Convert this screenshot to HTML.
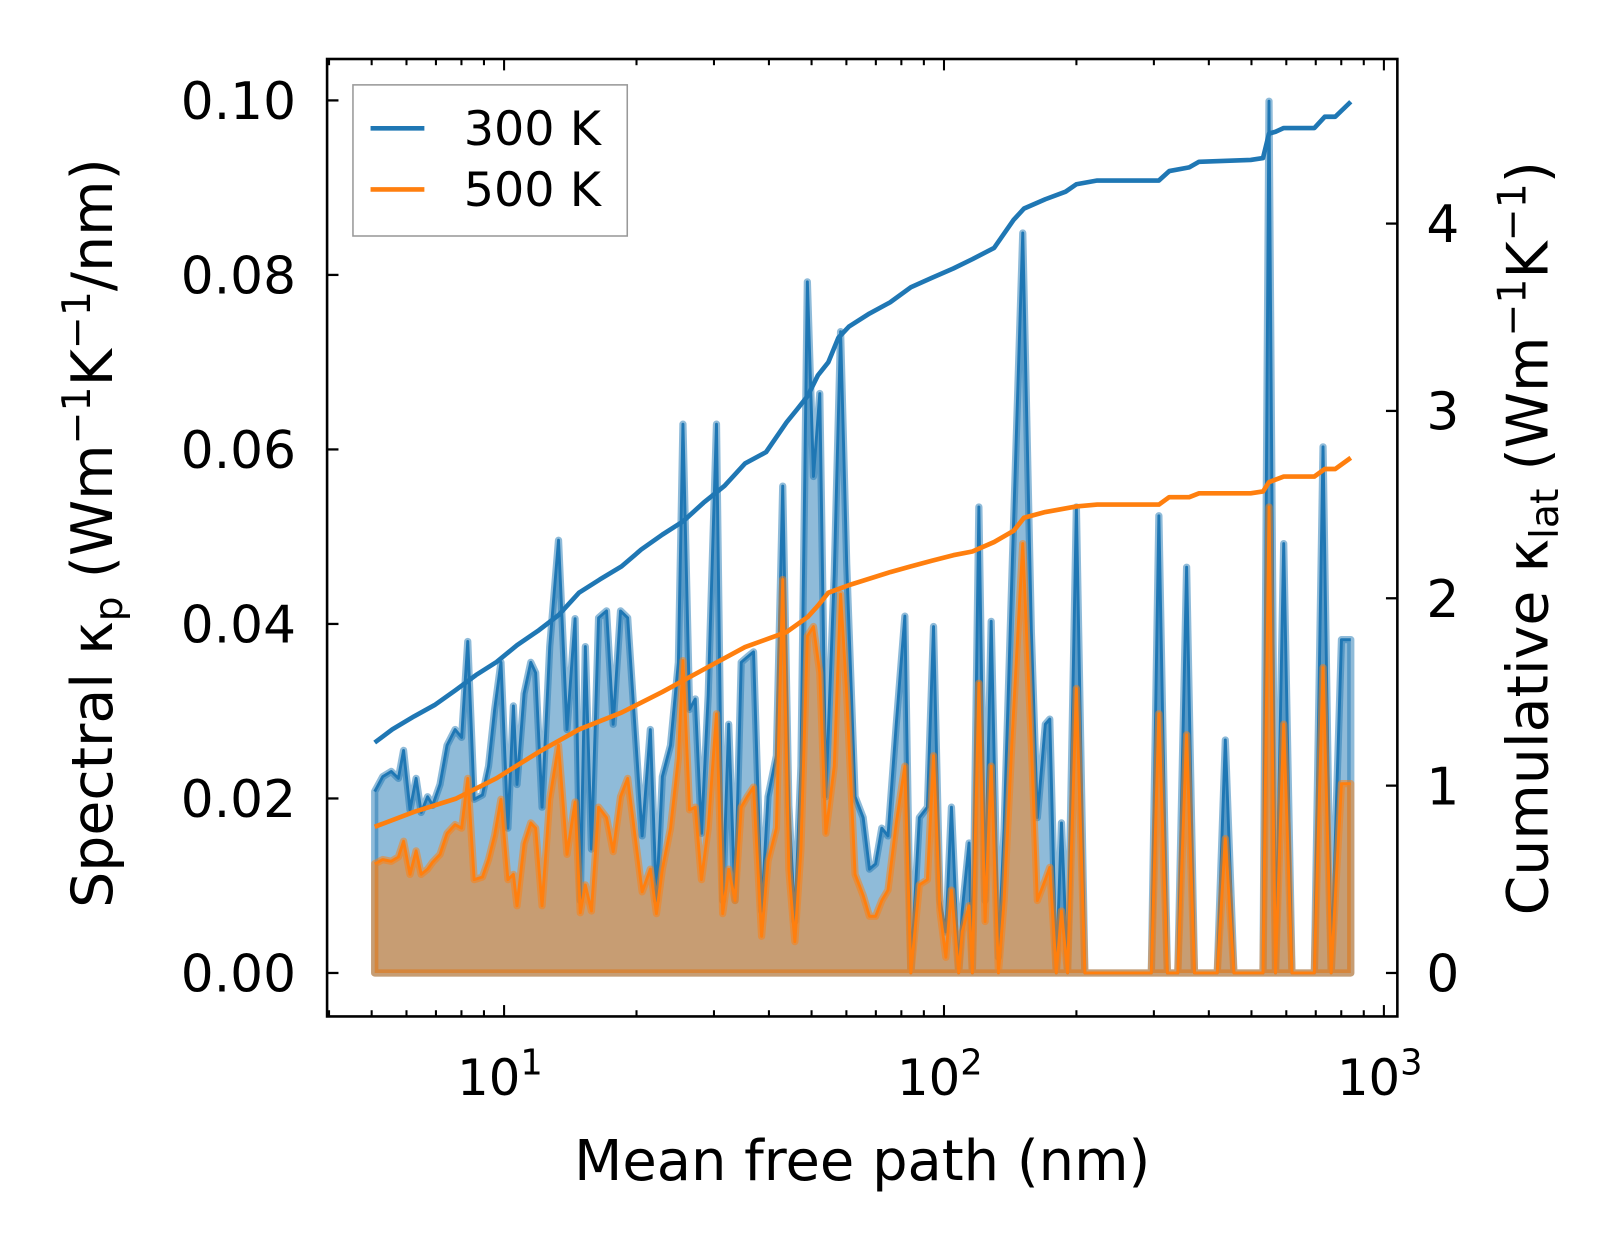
<!DOCTYPE html>
<html><head><meta charset="utf-8"><style>
html,body{margin:0;padding:0;background:#fff}
svg{display:block;font-family:"DejaVu Sans","Liberation Sans",sans-serif}
</style></head><body>
<svg id="chart" width="1623" height="1254" viewBox="0 0 1568 1211.5" xmlns="http://www.w3.org/2000/svg">
<rect x="0" y="0" width="1568" height="1211.5" fill="#fff"/>
<g id="marks"></g>
<g id="axes"></g>
</svg>
<script>
const mfp=[5.08,5.30,5.54,5.75,5.91,6.11,6.31,6.48,6.70,6.88,7.15,7.42,7.74,8.01,8.27,8.55,8.93,9.22,9.52,9.84,10.2,10.5,10.7,11.1,11.5,11.8,12.2,12.7,13.3,13.9,14.5,14.9,15.3,15.8,16.4,17.1,17.7,18.4,19.1,20.6,21.5,22.2,22.9,23.9,24.9,25.5,26.4,27.2,28.1,29.1,30.4,31.4,32.4,33.5,34.6,35.7,36.9,38.5,39.8,41.6,43.0,44.4,45.8,47.3,48.9,50.5,52.2,53.9,56.3,58.2,60.1,62.8,65.5,67.7,69.9,72.2,74.6,77.9,81.5,84.1,87.9,91.7,94.7,97.9,101,104,108,110,114,116,120,124,128,133,137,143,151,158,163,170,174,180,185,191,200,209,218,296,308,322,340,356,371,418,436,456,531,548,567,592,618,695,727,759,801,841];
const k300=[.0208,.0225,.0231,.0223,.0255,.0187,.0223,.0184,.0202,.0192,.0216,.0261,.0279,.0270,.0380,.0199,.0204,.0237,.0302,.0356,.0166,.0306,.0216,.0320,.0356,.0344,.0190,.0374,.0496,.0279,.0406,.0083,.0374,.0142,.0407,.0415,.0285,.0415,.0407,.0157,.0279,.0083,.0225,.0261,.0356,.0629,.0302,.0314,.0160,.0318,.0629,.0083,.0285,.0083,.0356,.0362,.0368,.0071,.0202,.0249,.0558,.0192,.0059,.0237,.0792,.0569,.0664,.0202,.0457,.0735,.0469,.0202,.0178,.0119,.0125,.0166,.0157,.0285,.0409,0,.0178,.0190,.0397,.0083,.0047,.0190,0,.0071,.0149,0,.0534,.0083,.0403,.0018,.0166,.0469,.0848,.0391,.0178,.0285,.0291,0,.0172,0,.0534,0,0,0,.0524,0,0,.0465,0,0,.0267,0,0,.0999,0,.0492,0,0,.0603,0,.0382,.0382];
const k500=[.0125,.0130,.0128,.0133,.0151,.0113,.0140,.0113,.0119,.0127,.0136,.0160,.0170,.0166,.0223,.0107,.0110,.0130,.0158,.0199,.0107,.0113,.0077,.0148,.0172,.0166,.0077,.0199,.0261,.0136,.0196,.0069,.0101,.0071,.0190,.0178,.0139,.0202,.0223,.0093,.0119,.0068,.0119,.0166,.0246,.0358,.0187,.0190,.0107,.0166,.0297,.0068,.0119,.0083,.0190,.0202,.0213,.0042,.0128,.0166,.0451,.0119,.0036,.0142,.0386,.0397,.0344,.0160,.0237,.0434,.0320,.0113,.0089,.0065,.0065,.0083,.0095,.0172,.0237,0,.0101,.0107,.0249,.0071,.0018,.0095,0,.0047,.0077,0,.0332,.0059,.0237,0,.0083,.0273,.0492,.0261,.0083,.0107,.0121,0,.0071,0,.0326,0,0,0,.0297,0,0,.0273,0,0,.0154,0,0,.0534,0,.0285,0,0,.0350,0,.0217,.0217];
const cumX300=[5.08,5.57,6.25,6.95,7.76,8.63,9.62,10.7,12.0,13.3,14.8,16.5,18.5,20.5,22.9,25.5,28.4,31.7,35.3,39.4,43.9,46.4,49.0,51.7,54.6,57.5,60.8,67.7,75.5,84.1,93.8,105,116,130,144,152,170,189,200,223,308,325,361,380,498,531,548,567,592,695,734,775,841];
const cum300=[1.23,1.30,1.37,1.43,1.51,1.59,1.66,1.75,1.83,1.91,2.03,2.10,2.17,2.26,2.34,2.41,2.51,2.60,2.72,2.78,2.94,3.01,3.08,3.19,3.26,3.39,3.45,3.52,3.58,3.66,3.71,3.76,3.81,3.87,4.02,4.08,4.13,4.17,4.21,4.23,4.23,4.28,4.30,4.33,4.34,4.35,4.48,4.49,4.51,4.51,4.57,4.57,4.65];
const cumX500=[5.08,6.25,7.76,9.62,12.0,14.8,18.5,22.9,28.4,35.3,43.9,49.0,51.7,54.6,60.8,75.5,84.1,93.8,105,116,130,144,152,170,200,223,308,325,361,380,498,531,548,592,695,734,775,841];
const cum500=[0.78,0.86,0.93,1.04,1.18,1.30,1.39,1.50,1.62,1.74,1.82,1.90,1.96,2.03,2.07,2.14,2.17,2.20,2.23,2.25,2.30,2.36,2.43,2.46,2.49,2.50,2.50,2.54,2.54,2.56,2.56,2.57,2.62,2.65,2.65,2.69,2.69,2.75];
const leftTicks=[0,0.02,0.04,0.06,0.08,0.10];
const leftTickLabels=["0.00","0.02","0.04","0.06","0.08","0.10"];
const rightTicks=[0,1,2,3,4];
const xDecades=[1,2,3];

const L=316,R=1350,T=57,B=982;
const NS="http://www.w3.org/2000/svg";
const X=v=>487+425*(Math.log10(v)-1);
const YL=v=>940-v*8430;
const YR=v=>940-v*181;
function mk(tag,attrs,parent,text){const e=document.createElementNS(NS,tag);for(const k in attrs)e.setAttribute(k,attrs[k]);if(text!==undefined)e.textContent=text;parent.appendChild(e);return e;}
const marks=document.getElementById('marks'),axes=document.getElementById('axes');
mk('clipPath',{id:'clip'},marks);
mk('rect',{x:L,y:T,width:R-L,height:B-T},document.getElementById('clip'));
const mg=mk('g',{'clip-path':'url(#clip)'},marks);

function area(vals,color,name){
  let line=mfp.map((m,i)=>(i?'L':'M')+X(m).toFixed(1)+' '+YL(vals[i]).toFixed(1)).join(' ');
  let fill=line+' L'+X(mfp[mfp.length-1]).toFixed(1)+' '+YL(0)+' L'+X(mfp[0]).toFixed(1)+' '+YL(0)+' Z';
  const f=mk('path',{d:fill,fill:color,'fill-opacity':0.5,stroke:color,'stroke-opacity':0.5,'stroke-width':7,'stroke-linejoin':'round'},mg);
  
  
  const l=mk('path',{d:line,fill:'none',stroke:color,'stroke-width':2.8,'stroke-linejoin':'round'},mg);
  
  
}
area(k300,'#1f77b4','spectral-300k');
area(k500,'#ff7f0e','spectral-500k');
function cum(xs,vs,color,name){
  const d=xs.map((m,i)=>(i?'L':'M')+X(m).toFixed(1)+' '+YR(vs[i]).toFixed(1)).join(' ');
  const p=mk('path',{d:d,fill:'none',stroke:color,'stroke-width':4.5,'stroke-linejoin':'round'},mg);
  
  
}
cum(cumX300,cum300,'#1f77b4','cumulative-300k');
cum(cumX500,cum500,'#ff7f0e','cumulative-500k');

const fr=mk('rect',{x:L,y:T,width:R-L,height:B-T,fill:'none',stroke:'#000','stroke-width':2.5},axes);


leftTicks.forEach((v,i)=>{
  const y=YL(v);
  mk('line',{x1:L,x2:L+11,y1:y,y2:y,stroke:'#000','stroke-width':2.2},axes);
  const t=mk('text',{x:L-30,y:y+18,'text-anchor':'end','font-size':50},axes,leftTickLabels[i]);
  
  
});
rightTicks.forEach(v=>{
  const y=YR(v);
  mk('line',{x1:R-11,x2:R,y1:y,y2:y,stroke:'#000','stroke-width':2.2},axes);
  const t=mk('text',{x:R+28,y:y+18,'text-anchor':'start','font-size':50},axes,String(v));
  
  
});
for(let d=0;d<=3;d++){
  for(let m=1;m<10;m++){
    const v=m*Math.pow(10,d);const x=X(v);
    if(x<L||x>R)continue;
    const len=m===1?11:6;
    mk('line',{x1:x,x2:x,y1:B,y2:B-len,stroke:'#000','stroke-width':2},axes);
    mk('line',{x1:x,x2:x,y1:T,y2:T+len,stroke:'#000','stroke-width':2},axes);
  }
}
xDecades.forEach(e=>{
  const x=X(Math.pow(10,e));
  const t=mk('text',{x:x-4,y:1058,'text-anchor':'middle','font-size':48},axes);
  
  
  t.innerHTML='10<tspan dy="-20" font-size="34">'+e+'</tspan>';
});
</script>
<svg style="position:absolute;left:0;top:0" width="1623" height="1254" viewBox="0 0 1568 1211.5" xmlns="http://www.w3.org/2000/svg" font-family="DejaVu Sans, Liberation Sans, sans-serif">
<text x="833" y="1140" text-anchor="middle" font-size="54">Mean free path (nm)</text>
<text transform="translate(108,515) rotate(-90)" text-anchor="middle" font-size="55">Spectral κ<tspan font-size="38" dy="10">p</tspan><tspan dy="-10"> (Wm</tspan><tspan font-size="38" dy="-21">−1</tspan><tspan dy="21">K</tspan><tspan font-size="38" dy="-21">−1</tspan><tspan dy="21">/nm)</tspan></text>
<text transform="translate(1495,520) rotate(-90)" text-anchor="middle" font-size="55">Cumulative κ<tspan font-size="38" dy="10">lat</tspan><tspan dy="-10"> (Wm</tspan><tspan font-size="38" dy="-21">−1</tspan><tspan dy="21">K</tspan><tspan font-size="38" dy="-21">−1</tspan><tspan dy="21">)</tspan></text>
<g>
<rect x="341" y="82" width="265" height="146" fill="#fff" fill-opacity="0.8" stroke="#999" stroke-width="1.5"/>
<line x1="358" y1="124" x2="410" y2="124" stroke="#1f77b4" stroke-width="4.5"/>
<text x="448" y="140" font-size="46">300 K</text>
<line x1="358" y1="183" x2="410" y2="183" stroke="#ff7f0e" stroke-width="4.5"/>
<text x="448" y="199" font-size="46">500 K</text>
</g>
</svg>
</body></html>
